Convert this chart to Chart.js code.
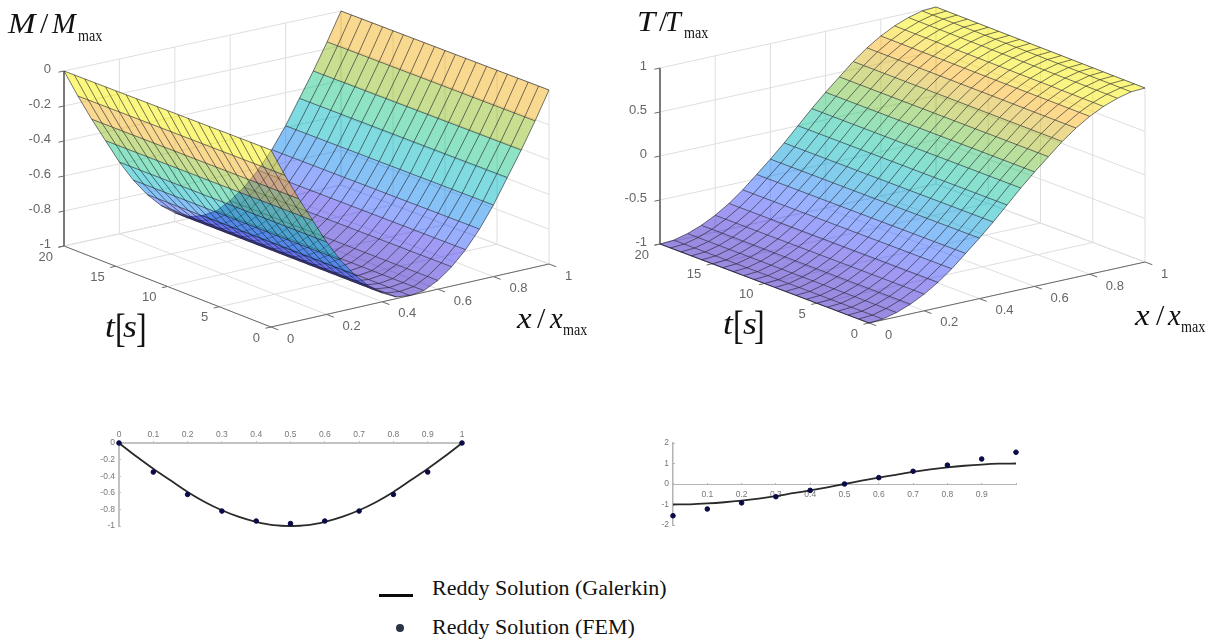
<!DOCTYPE html>
<html>
<head>
<meta charset="utf-8">
<title>Reddy beam surfaces</title>
<script src="https://cdn.jsdelivr.net/npm/chart.js@4"></script>
<style>
  html, body { margin: 0; padding: 0; background: #fff; }
  body { position: relative; width: 1213px; height: 640px; overflow: hidden; }
  canvas { position: absolute; filter: blur(0.45px); }
  #surfaceM { left: 0; top: 0; }
  #surfaceT { left: 610px; top: 0; }
  #profileM { left: 90px; top: 420px; }
  #profileT { left: 650px; top: 425px; }
  .txt { position: absolute; line-height: 0; white-space: nowrap; color: #111; font-family: "Liberation Serif", serif; transform-origin: left center; }
  .keyLine { position: absolute; left: 379px; top: 594px; width: 34px; height: 3px; background: #0a0a0a; }
  .keyDot { position: absolute; left: 396px; top: 624px; width: 8px; height: 8px; border-radius: 50%; background: #2a3548; }
</style>
</head>
<body>
<canvas id="surfaceM" width="610" height="370"></canvas>
<canvas id="surfaceT" width="603" height="370"></canvas>
<canvas id="profileM" width="400" height="120"></canvas>
<canvas id="profileT" width="400" height="120"></canvas>
<div class="keyLine"></div>
<div class="keyDot"></div>
<script>
const xGrid = [0, 0.05, 0.1, 0.15, 0.2, 0.25, 0.3, 0.35, 0.4, 0.45, 0.5, 0.55, 0.6, 0.65, 0.7, 0.75, 0.8, 0.85, 0.9, 0.95, 1];
const tGrid = [0, 1, 2, 3, 4, 5, 6, 7, 8, 9, 10, 11, 12, 13, 14, 15, 16, 17, 18, 19, 20];
const momentProfile = [0, -0.16, -0.31, -0.45, -0.59, -0.71, -0.81, -0.89, -0.95, -0.99, -1, -0.99, -0.95, -0.89, -0.81, -0.71, -0.59, -0.45, -0.31, -0.16, 0];
const shearProfile = [-1, -0.99, -0.95, -0.89, -0.81, -0.71, -0.59, -0.45, -0.31, -0.16, 0, 0.16, 0.31, 0.45, 0.59, 0.71, 0.81, 0.89, 0.95, 0.99, 1];

const femX = [0, 0.1, 0.2, 0.3, 0.4, 0.5, 0.6, 0.7, 0.8, 0.9, 1];
const momentFem = [0, -0.35, -0.62, -0.82, -0.94, -0.97, -0.94, -0.82, -0.62, -0.35, 0];
const shearFem = [-1.55, -1.22, -0.92, -0.62, -0.31, 0, 0.31, 0.62, 0.92, 1.22, 1.55];

const xTicks = [0, 0.2, 0.4, 0.6, 0.8, 1];
const tTicks = [0, 5, 10, 15, 20];
const momentTicks = [0, -0.2, -0.4, -0.6, -0.8, -1];
const shearTicks = [1, 0.5, 0, -0.5, -1];

const legendLabels = ["Reddy Solution (Galerkin)", "Reddy Solution (FEM)"];

// colormap as seen through the 50% face alpha, low to high
const colormapStops = [0, 0.11, 0.2, 0.3, 0.41, 0.55, 0.69, 0.85, 0.94, 1];
const colormapColors = [[53, 21, 193], [65, 57, 235], [53, 97, 255], [11, 137, 235], [1, 183, 193], [27, 199, 137], [145, 189, 33], [251, 177, 31], [247, 235, 10], [247, 239, 0]];

// view cube of each 3D axes: screen position of the floor and ceiling corners, named x/t
const viewM = {
  zMin: -1, zMax: 0,
  floor: { x0t0: [271, 327], x1t0: [549, 264], x0t20: [64, 246], x1t20: [341, 185] },
  ceil: { x0t0: [271, 150], x1t0: [549, 90], x0t20: [64, 71], x1t20: [341, 11] }
};
const viewT = {
  zMin: -1, zMax: 1,
  floor: { x0t0: [259, 323], x1t0: [535, 262], x0t20: [50, 244], x1t20: [326, 184] },
  ceil: { x0t0: [259, 147], x1t0: [535, 88], x0t20: [50, 68], x1t20: [326, 7] }
};

function project(view, x, t, z) {
  const u = x, v = t / 20, w = (z - view.zMin) / (view.zMax - view.zMin);
  const corner = (c, i) => (1 - u) * (1 - v) * c.x0t0[i] + u * (1 - v) * c.x1t0[i] + (1 - u) * v * c.x0t20[i] + u * v * c.x1t20[i];
  return {
    x: (1 - w) * corner(view.floor, 0) + w * corner(view.ceil, 0),
    y: (1 - w) * corner(view.floor, 1) + w * corner(view.ceil, 1)
  };
}

function colorFor(view, z) {
  const f = (z - view.zMin) / (view.zMax - view.zMin);
  let i = 0;
  while (i < colormapStops.length - 2 && f > colormapStops[i + 1]) i++;
  const k = (f - colormapStops[i]) / (colormapStops[i + 1] - colormapStops[i]);
  const mix = colormapColors[i].map((c, n) => Math.round(c + (colormapColors[i + 1][n] - c) * k));
  return `rgba(${mix[0]}, ${mix[1]}, ${mix[2]}, 0.5)`;
}

function lineSet(points, color, width) {
  return { data: points, showLine: true, fill: false, borderColor: color, borderWidth: width, pointRadius: 0, tension: 0 };
}

function surfaceDatasets(view, profile) {
  const layers = [];
  const gap = { x: NaN, y: NaN };
  const grid = "#dedede";
  const axis = "#6a6a6a";
  const edge = "rgba(25, 25, 35, 0.7)";

  // back walls and floor
  zTicksOf(view).forEach(z => {
    layers.push(lineSet([project(view, 0, 20, z), project(view, 1, 20, z), project(view, 1, 0, z)], grid, 1));
  });
  xTicks.forEach(x => {
    layers.push(lineSet([project(view, x, 0, view.zMin), project(view, x, 20, view.zMin), project(view, x, 20, view.zMax)], grid, 1));
  });
  tTicks.forEach(t => {
    layers.push(lineSet([project(view, 0, t, view.zMin), project(view, 1, t, view.zMin), project(view, 1, t, view.zMax)], grid, 1));
  });

  // axis lines and their ticks
  layers.push(lineSet([project(view, 0, 20, view.zMax), project(view, 0, 20, view.zMin), project(view, 0, 0, view.zMin), project(view, 1, 0, view.zMin)], axis, 1));
  zTicksOf(view).forEach(z => layers.push(lineSet([project(view, 0, 20, z), project(view, -0.02, 20, z)], axis, 1)));
  xTicks.forEach(x => layers.push(lineSet([project(view, x, 0, view.zMin), project(view, x, -0.7, view.zMin)], axis, 1)));
  tTicks.forEach(t => layers.push(lineSet([project(view, 0, t, view.zMin), project(view, -0.02, t, view.zMin)], axis, 1)));

  // surface strips, far side first so the alpha stacks the right way
  for (let i = xGrid.length - 2; i >= 0; i--) {
    const strip = [];
    tGrid.forEach(t => strip.push(project(view, xGrid[i], t, profile[i])));
    tGrid.slice().reverse().forEach(t => strip.push(project(view, xGrid[i + 1], t, profile[i + 1])));
    layers.push({ data: strip, showLine: true, fill: "shape", backgroundColor: colorFor(view, profile[i]), borderWidth: 0, borderColor: "transparent", pointRadius: 0, tension: 0 });

    const mesh = [];
    tGrid.forEach(t => mesh.push(project(view, xGrid[i], t, profile[i]), project(view, xGrid[i + 1], t, profile[i + 1]), gap));
    layers.push(lineSet(mesh, edge, 0.85));
    layers.push(lineSet(tGrid.map(t => project(view, xGrid[i + 1], t, profile[i + 1])), edge, 0.85));
    if (i === 0) layers.push(lineSet(tGrid.map(t => project(view, xGrid[0], t, profile[0])), edge, 0.85));
  }

  // chart.js paints the highest order first
  layers.forEach((layer, index) => { layer.order = -index; });
  return layers;
}

function zTicksOf(view) {
  return view === viewM ? momentTicks : shearTicks;
}

function cubeLabels(view) {
  return {
    id: "cubeLabels",
    afterDraw(chart) {
      const { ctx, scales } = chart;
      const at = p => [scales.x.getPixelForValue(p.x), scales.y.getPixelForValue(p.y)];
      ctx.save();
      ctx.font = '13px "Liberation Sans", sans-serif';
      ctx.fillStyle = "#666";
      ctx.textBaseline = "middle";
      ctx.textAlign = "right";
      zTicksOf(view).forEach(z => {
        const [px, py] = at(project(view, 0, 20, z));
        ctx.fillText(String(z), px - 13, py - 2);
      });
      tTicks.forEach(t => {
        const [px, py] = at(project(view, 0, t, view.zMin));
        ctx.fillText(String(t), px - 11, py + 11);
      });
      ctx.textAlign = "left";
      xTicks.forEach(x => {
        const [px, py] = at(project(view, x, 0, view.zMin));
        ctx.fillText(String(x), px + 16, py + 12);
      });
      ctx.restore();
    }
  };
}

function renderSurface(id, view, profile) {
  const canvas = document.getElementById(id);
  return new Chart(canvas, {
    type: "scatter",
    data: { datasets: surfaceDatasets(view, profile) },
    options: {
      responsive: false,
      animation: false,
      events: [],
      layout: { padding: 0 },
      plugins: { legend: { display: false }, tooltip: { enabled: false } },
      scales: {
        x: { type: "linear", min: 0, max: canvas.width, display: false },
        y: { type: "linear", min: 0, max: canvas.height, reverse: true, display: false }
      }
    },
    plugins: [cubeLabels(view)]
  });
}

function profileOptions(scales, padding) {
  return {
    responsive: false,
    animation: false,
    events: [],
    layout: { padding },
    plugins: { legend: { display: false }, tooltip: { enabled: false } },
    scales
  };
}

const tickFont = { family: '"Liberation Sans", sans-serif', size: 8.5 };

function renderProfile(id, curve, fem, options) {
  return new Chart(document.getElementById(id), {
    type: "scatter",
    data: {
      datasets: [
        { data: femX.map((x, i) => ({ x, y: fem[i] })), backgroundColor: "#0a0a46", borderColor: "#0a0a46", pointRadius: 2.3, clip: false, order: 0 },
        { data: xGrid.map((x, i) => ({ x, y: curve[i] })), showLine: true, borderColor: "#2a2a2a", borderWidth: 1.8, pointRadius: 0, tension: 0.3, clip: false, order: 1 }
      ]
    },
    options
  });
}

function addText(text, x, baseline, size, italic, squeeze) {
  const el = document.createElement("span");
  el.className = "txt";
  el.textContent = text;
  el.style.left = x + "px";
  el.style.top = (baseline - size * 0.34) + "px";
  el.style.fontSize = size + "px";
  if (italic) el.style.fontStyle = "italic";
  if (squeeze) el.style.transform = `scaleX(${squeeze})`;
  document.body.appendChild(el);
}

function ratioLabel(sym, x, baseline, slashX, symX, maxX, maxBase, size) {
  addText(sym, x, baseline, size, true, 1.1);
  addText("/", slashX, baseline, size, false);
  addText(sym, symX, baseline, size, true, 0.95);
  addText("max", maxX, maxBase, 17, false, 0.83);
}

function timeLabel(x, baseline, lx, sx, rx) {
  addText("t", x, baseline, 31, true, 1.15);
  addText("[", lx, baseline + 5, 40, false, 0.8);
  addText("s", sx, baseline, 31, true, 1.15);
  addText("]", rx, baseline + 5, 40, false, 0.8);
}

renderSurface("surfaceM", viewM, momentProfile);
renderSurface("surfaceT", viewT, shearProfile);

renderProfile("profileM", momentProfile, momentFem, profileOptions({
  x: {
    type: "linear", position: "top", min: 0, max: 1,
    afterFit: s => { s.height = 23; },
    afterBuildTicks: s => { s.ticks = femX.map(value => ({ value })); },
    border: { color: "#c2c2c2", width: 2 },
    grid: { drawOnChartArea: false, tickLength: 2, color: "#c2c2c2" },
    ticks: { color: "#777", font: tickFont, padding: 1, maxRotation: 0, callback: v => String(v) }
  },
  y: {
    type: "linear", min: -1, max: 0,
    afterFit: s => { s.width = 29; },
    border: { color: "#c2c2c2", width: 2 },
    grid: { drawOnChartArea: false, tickLength: -2, color: "#c2c2c2" },
    ticks: { color: "#777", font: tickFont, padding: 6, stepSize: 0.2, callback: v => String(+v.toFixed(1)) }
  }
}, { left: 0, top: 0, right: 28, bottom: 14 }));

renderProfile("profileT", shearProfile, shearFem, profileOptions({
  x: {
    type: "linear", position: { y: 0 }, min: 0, max: 1,
    afterBuildTicks: s => { s.ticks = femX.map(value => ({ value })); },
    border: { color: "#b4b4b4", width: 1 },
    grid: { drawOnChartArea: false, tickLength: -2, color: "#b4b4b4" },
    ticks: { color: "#777", font: tickFont, padding: 8, maxRotation: 0, callback: v => (v === 0 || v === 1 ? "" : String(v)) }
  },
  y: {
    type: "linear", min: -2, max: 2,
    afterFit: s => { s.width = 23; },
    border: { color: "#b4b4b4", width: 1.5 },
    grid: { drawOnChartArea: false, tickLength: -2, color: "#b4b4b4" },
    ticks: { color: "#777", font: tickFont, padding: 6, stepSize: 1 }
  }
}, { left: 0, top: 18, right: 34, bottom: 20 }));

ratioLabel("M", 8, 33, 40, 52, 78, 42, 30);
ratioLabel("T", 637, 31, 659, 665, 684, 39, 30);
ratioLabel("x", 517, 328, 537, 550, 563, 336, 30);
ratioLabel("x", 1135, 325, 1156, 1168, 1181, 333, 30);
timeLabel(105, 338, 115, 123, 136);
timeLabel(723, 335, 733, 743, 754);

addText(legendLabels[0], 432, 595, 22, false);
addText(legendLabels[1], 432, 634, 22, false);
</script>
</body>
</html>
